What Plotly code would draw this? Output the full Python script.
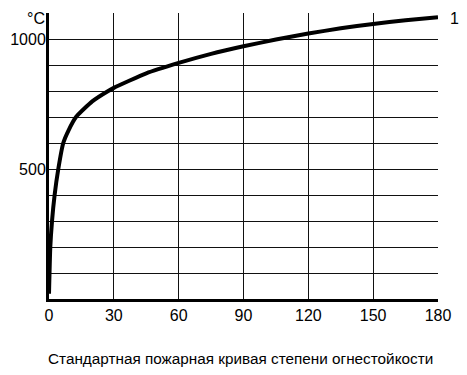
import plotly.graph_objects as go

# Time, minutes
time_min = [0, 0.6, 1.4, 2.6, 4.3, 6.6, 9, 12.5, 20, 27.4, 30, 45, 60, 75, 90, 105, 120, 135, 150, 165, 180]
# Temperature, °C
temp_c = [20, 200, 300, 400, 500, 600, 648, 700, 760, 800, 812, 868, 908, 943, 972, 998, 1021, 1041, 1058, 1072, 1084]

x_ticks = [0, 30, 60, 90, 120, 150, 180]
y_grid = list(range(0, 1101, 100))
y_labels = ["500" if v == 500 else "1000" if v == 1000 else "" for v in y_grid]
curve_label = "1"
unit_label = "°C"
caption = "Стандартная пожарная кривая степени огнестойкости"

FONT = "Liberation Sans, Arial, sans-serif"

fig = go.Figure()
fig.add_trace(go.Scatter(
    x=time_min, y=temp_c, mode="lines",
    line=dict(color="#000", width=4, shape="spline", smoothing=0.5),
    hoverinfo="skip", showlegend=False,
))

fig.add_annotation(x=time_min[-1], y=temp_c[-1], text=curve_label, showarrow=False,
                   xanchor="left", yanchor="middle", xshift=10, yshift=-1,
                   font=dict(size=16, color="#000", family=FONT))
fig.add_annotation(xref="paper", yref="paper", x=0, y=1, text=unit_label, showarrow=False,
                   xanchor="right", yanchor="middle", xshift=-2, yshift=-5,
                   font=dict(size=16, color="#000", family=FONT))
fig.add_annotation(xref="paper", yref="paper", x=0.492, y=0, text=caption, showarrow=False,
                   xanchor="center", yanchor="middle", yshift=-59,
                   font=dict(size=15.3, color="#000", family=FONT))

fig.update_xaxes(range=[0, 180], tickvals=x_ticks, ticktext=[str(v) for v in x_ticks],
                 showgrid=True, gridcolor="#111", gridwidth=1.3,
                 showline=True, linecolor="#000", linewidth=3, automargin=False,
                 zeroline=False, ticks="", tickfont=dict(size=16, color="#000", family=FONT))
fig.update_yaxes(range=[0, 1100], tickvals=y_grid, ticktext=y_labels,
                 showgrid=True, gridcolor="#111", gridwidth=1.3,
                 showline=True, linecolor="#000", linewidth=3, automargin=False,
                 ticklabelstandoff=-3,
                 zeroline=False, ticks="", tickfont=dict(size=16, color="#000", family=FONT))

# The page body has an 8px default margin, so the figure is sized to fit the window.
fig.update_layout(
    width=459, height=367,
    margin=dict(l=41, r=29, t=5, b=76),
    paper_bgcolor="#fff", plot_bgcolor="#fff",
    font=dict(family=FONT, color="#000"),
)

fig.write_html("out.html")
